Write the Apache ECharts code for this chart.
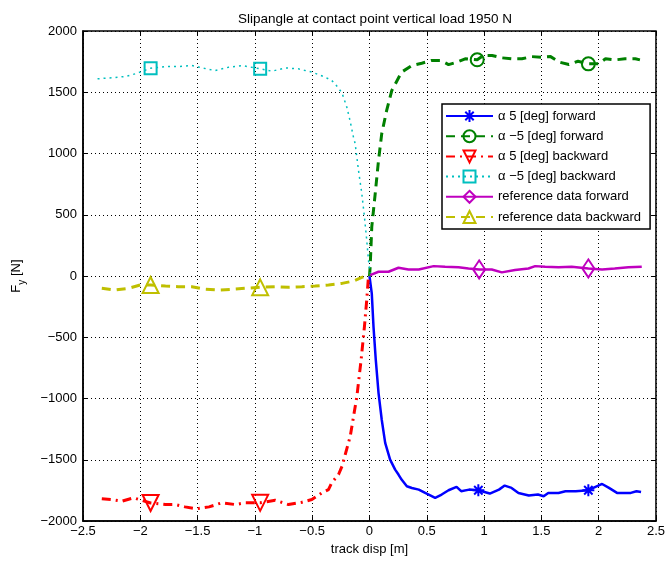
<!DOCTYPE html>
<html>
<head>
    <meta charset="UTF-8">
    <title>Slipangle</title>
    <script src="https://cdn.jsdelivr.net/npm/echarts/dist/echarts.min.js"></script>
    <style>
        body { margin: 0; background: #fff; }
        #chart { width: 668px; height: 561px; }
    </style>
</head>
<body>
    <div id="chart"></div>
    <script>
        // [track disp, Fy]
        const fwdPos = [[0, 0], [0.006, -5], [0.02, -141], [0.035, -413], [0.055, -684], [0.079, -955], [0.107, -1173],
            [0.137, -1362], [0.18, -1498], [0.224, -1580], [0.253, -1620], [0.28, -1661], [0.326, -1716], [0.37, -1730],
            [0.43, -1743], [0.486, -1770], [0.53, -1790], [0.573, -1810], [0.63, -1783], [0.69, -1748], [0.76, -1721],
            [0.80, -1756], [0.87, -1743], [0.95, -1748], [1.05, -1775], [1.13, -1743], [1.18, -1710], [1.24, -1729],
            [1.30, -1770], [1.39, -1791], [1.47, -1783], [1.52, -1797], [1.56, -1770], [1.65, -1770], [1.71, -1756],
            [1.80, -1756], [1.91, -1748], [2.03, -1697], [2.09, -1729], [2.16, -1770], [2.23, -1770], [2.28, -1770],
            [2.33, -1756], [2.37, -1762]];
        const fwdNeg = [[0, 0], [0.006, 76], [0.02, 401], [0.05, 673], [0.079, 945], [0.107, 1162], [0.15, 1352],
            [0.195, 1515], [0.21, 1541], [0.28, 1664], [0.37, 1718], [0.456, 1737], [0.54, 1759], [0.62, 1759],
            [0.69, 1726], [0.76, 1745], [0.835, 1773], [0.94, 1765], [0.995, 1800], [1.07, 1800], [1.155, 1781],
            [1.24, 1773], [1.33, 1773], [1.416, 1791], [1.50, 1786], [1.58, 1791], [1.66, 1745], [1.74, 1726],
            [1.82, 1753], [1.91, 1732], [2.0, 1732], [2.06, 1773], [2.14, 1764], [2.23, 1773], [2.32, 1773], [2.36, 1764]];
        const bwdPos = [[-2.336, -1818], [-2.25, -1825], [-2.16, -1838], [-2.06, -1810], [-1.91, -1852], [-1.78, -1865],
            [-1.695, -1865], [-1.61, -1884], [-1.51, -1900], [-1.40, -1884], [-1.29, -1851], [-1.17, -1865],
            [-1.085, -1851], [-0.954, -1851], [-0.823, -1830], [-0.707, -1865], [-0.59, -1846], [-0.503, -1824],
            [-0.416, -1770], [-0.358, -1743], [-0.33, -1688], [-0.27, -1620], [-0.24, -1553], [-0.168, -1308],
            [-0.11, -983], [-0.073, -684], [-0.044, -413], [-0.024, -195], [-0.009, -5], [0, 0]];
        const bwdNeg = [[-2.373, 1610], [-2.25, 1618], [-2.13, 1629], [-2.045, 1650], [-1.91, 1696], [-1.78, 1710],
            [-1.67, 1710], [-1.55, 1718], [-1.46, 1699], [-1.35, 1677], [-1.23, 1704], [-1.11, 1718], [-0.954, 1691],
            [-0.85, 1672], [-0.735, 1699], [-0.62, 1691], [-0.50, 1664], [-0.387, 1623], [-0.33, 1596], [-0.30, 1569],
            [-0.24, 1495], [-0.198, 1379], [-0.17, 1270], [-0.14, 1134], [-0.125, 1080], [-0.096, 863], [-0.067, 673],
            [-0.044, 483], [-0.024, 293], [-0.009, 130], [0.006, 22]];
        const refFwd = [[0.006, 8], [0.079, 35], [0.166, 35], [0.253, 68], [0.34, 54], [0.43, 54], [0.56, 81], [0.66, 76],
            [0.777, 71], [0.864, 62], [0.957, 54], [1.067, 54], [1.155, 30], [1.27, 49], [1.387, 62], [1.446, 81],
            [1.533, 76], [1.65, 71], [1.765, 76], [1.91, 62], [2.03, 54], [2.14, 62], [2.26, 71], [2.376, 76]];
        const refBwd = [[-2.336, -100], [-2.22, -114], [-2.10, -100], [-2.0, -73], [-1.91, -73], [-1.78, -81], [-1.67, -87],
            [-1.55, -87], [-1.43, -108], [-1.32, -114], [-1.20, -108], [-1.085, -100], [-0.954, -92], [-0.823, -87],
            [-0.707, -92], [-0.59, -87], [-0.474, -81], [-0.358, -73], [-0.24, -60], [-0.14, -41], [-0.067, -11], [0, 8]];

        // indices of the points that carry a marker
        const marksFwdPos = [23, 36];
        const marksFwdNeg = [17, 29];
        const marksBwdPos = [4, 13];
        const marksBwdNeg = [4, 12];
        const marksRefFwd = [10, 19];
        const marksRefBwd = [4, 12];

        const names = ['\u03b1 5 [deg] forward', '\u03b1 \u22125 [deg] forward', '\u03b1 5 [deg] backward',
            '\u03b1 \u22125 [deg] backward', 'reference data forward', 'reference data backward'];

        const asterisk = 'path://M5,0L5,10M0,5L10,5M1.5,1.5L8.5,8.5M1.5,8.5L8.5,1.5';
        const minus = v => String(v).replace('-', '\u2212');

        function line(name, data, marks, color, type, width, symbol, size, rotate) {
            return {
                name: name,
                type: 'line',
                data: data,
                symbol: symbol,
                symbolRotate: rotate || 0,
                symbolSize: (v, p) => marks.includes(p.dataIndex) ? size : 0,
                showAllSymbol: true,
                lineStyle: { color: color, width: width, type: type },
                itemStyle: { color: 'rgba(0,0,0,0)', borderColor: color, borderWidth: 2 },
                emphasis: { disabled: true },
                z: 3
            };
        }

        const chart = echarts.init(document.getElementById('chart'));
        const axisFont = { fontFamily: 'Liberation Sans', fontSize: 13, color: '#000' };
        const tick = { inside: true, length: 5, lineStyle: { color: '#000' } };
        const grid = { show: true, lineStyle: { color: '#000', type: [1, 3], width: 1 } };
        chart.setOption({
            animation: false,
            title: {
                text: 'Slipangle at contact point vertical load 1950 N',
                left: 370, top: 7, textAlign: 'center',
                textStyle: { fontFamily: 'Liberation Sans', fontSize: 13.5, fontWeight: 'normal', color: '#000' }
            },
            grid: { left: 83, right: 11, top: 31, bottom: 39, show: true, borderColor: '#000', borderWidth: 1.5 },
            legend: {
                orient: 'vertical', left: 442, top: 104,
                padding: [5, 9, 5, 3], itemWidth: 47, itemHeight: 15, itemGap: 6.2,
                backgroundColor: '#fff', borderColor: '#000', borderWidth: 1.5,
                textStyle: { fontFamily: 'Liberation Sans', fontSize: 13, color: '#000' },
                data: names
            },
            xAxis: [{
                type: 'value', min: -2.5, max: 2.5, interval: 0.5,
                name: 'track disp [m]', nameLocation: 'middle', nameGap: 20,
                nameTextStyle: axisFont,
                axisLine: { onZero: false, lineStyle: { color: '#000', width: 1.5 } },
                axisTick: tick,
                axisLabel: Object.assign({ margin: 4, formatter: minus }, axisFont),
                splitLine: grid
            }, {
                type: 'value', position: 'top', min: -2.5, max: 2.5, interval: 0.5,
                axisLine: { show: false, onZero: false },
                axisTick: tick,
                axisLabel: { show: false }, splitLine: { show: false }
            }],
            yAxis: [{
                type: 'value', min: -2000, max: 2000, interval: 500,
                name: '{n|F}{s|y}{n| [N]}', nameLocation: 'middle', nameGap: 60,
                nameTextStyle: {
                    fontFamily: 'Liberation Sans', color: '#000',
                    rich: {
                        n: { fontFamily: 'Liberation Sans', fontSize: 13, color: '#000', verticalAlign: 'bottom' },
                        s: { fontFamily: 'Liberation Sans', fontSize: 10, color: '#000', verticalAlign: 'bottom', padding: [0, 0, -4, 0] }
                    }
                },
                axisLine: { show: true, onZero: false, lineStyle: { color: '#000', width: 1.5 } },
                axisTick: tick,
                axisLabel: Object.assign({ margin: 6, formatter: minus }, axisFont),
                splitLine: grid
            }, {
                type: 'value', position: 'right', min: -2000, max: 2000, interval: 500,
                axisLine: { show: false, onZero: false },
                axisTick: Object.assign({ show: true }, tick),
                axisLabel: { show: false }, splitLine: { show: false }
            }],
            series: [
                line(names[0], fwdPos, marksFwdPos, '#0000ff', 'solid', 2.5, asterisk, 12),
                line(names[1], fwdNeg, marksFwdNeg, '#008000', [9, 6], 3, 'circle', 13),
                line(names[2], bwdPos, marksBwdPos, '#ff0000', [9, 5, 2, 5], 3, 'triangle', 16, 180),
                line(names[3], bwdNeg, marksBwdNeg, '#00bfbf', [2, 4], 1.5, 'rect', 12),
                line(names[4], refFwd, marksRefFwd, '#bf00bf', 'solid', 2.5, 'diamond', [12, 18]),
                line(names[5], refBwd, marksRefBwd, '#bfbf00', [9, 6], 3, 'triangle', 16)
            ]
        });
    </script>
</body>
</html>
